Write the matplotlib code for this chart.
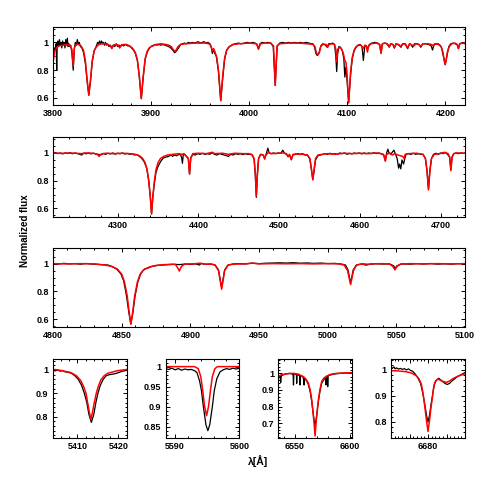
import numpy as np
import matplotlib
matplotlib.use("Agg")
import matplotlib.pyplot as plt
from matplotlib.ticker import MultipleLocator, FuncFormatter

plt.rcParams['font.family'] = ['Liberation Sans', 'DejaVu Sans']

# ---------------- data: (wavelength [A], normalized flux) ----------------
P1_BLACK = [
 (3800.0,0.80),(3800.8,0.93),(3801.6,0.96),(3802.4,0.95),(3803.2,0.99),(3803.8,0.80),(3804.3,0.99),
 (3805.0,1.01),(3805.8,0.97),(3806.6,1.02),(3807.4,0.98),(3808.2,1.00),(3809.0,0.96),(3809.8,1.01),
 (3810.6,0.98),(3811.4,1.00),(3812.2,0.96),(3813.0,1.02),(3813.8,0.98),(3814.6,1.03),(3815.4,0.97),
 (3816.2,0.99),(3817.0,0.97),(3818.0,0.98),(3819.2,0.93),(3820.6,0.80),(3821.8,0.96),(3822.8,1.00),
 (3823.8,0.98),(3824.8,1.02),(3825.8,0.99),(3826.8,1.00),(3828.0,0.97),(3829.5,0.96),(3831.0,0.93),
 (3833.0,0.85),(3834.8,0.72),(3836.5,0.62),(3838.2,0.72),(3840.0,0.86),(3842.0,0.94),(3844.0,0.97),
 (3845.5,1.00),(3846.5,0.99),(3847.5,1.01),(3848.5,0.99),(3849.5,1.01),(3850.5,0.99),(3851.5,1.00),
 (3852.5,0.98),(3853.5,1.00),(3854.5,0.98),(3855.5,0.99),(3857.0,0.97),(3858.5,0.98),(3860.0,0.96),
 (3861.5,0.98),(3863.0,0.97),(3864.5,0.99),(3866.0,0.97),(3867.5,0.98),(3869.0,0.97),(3870.5,0.985),
 (3872.0,0.975),(3874.0,0.985),(3876.0,0.975),(3878.0,0.975),(3880.0,0.96),(3882.0,0.945),(3884.0,0.92),
 (3886.0,0.87),(3888.0,0.75),(3890.0,0.595),(3892.0,0.75),(3894.0,0.88),(3896.0,0.93),(3898.0,0.955),
 (3900.0,0.97),(3902.0,0.975),(3904.0,0.985),(3906.0,0.98),(3908.0,0.985),(3910.0,0.98),(3912.0,0.985),
 (3914.0,0.98),(3916.0,0.975),(3918.0,0.97),(3920.0,0.96),(3922.0,0.945),(3924.0,0.925),(3926.0,0.94),
 (3928.0,0.96),(3930.0,0.985),(3932.0,0.99),(3934.0,0.995),(3936.0,0.99),(3938.0,1.0),(3940.0,0.995),
 (3942.0,1.0),(3944.0,0.995),(3946.0,1.0),(3948.0,1.005),(3950.0,0.995),(3952.0,1.0),(3954.0,1.005),
 (3956.0,0.995),(3958.0,1.0),(3960.0,0.99),(3961.5,0.96),(3962.5,0.92),(3963.5,0.95),(3965.0,0.92),
 (3966.5,0.90),(3968.5,0.80),(3971.0,0.58),(3973.0,0.74),(3975.0,0.88),(3977.0,0.94),(3979.0,0.965),
 (3981.0,0.975),(3983.0,0.985),(3986.0,0.99),(3989.0,0.995),(3992.0,0.99),(3995.0,0.995),(3998.0,1.0),
 (4001.0,0.995),(4004.0,1.0),(4006.0,0.995),(4008.0,0.985),(4009.5,0.955),(4011.0,0.99),(4013.0,1.0),
 (4016.0,0.995),(4019.0,1.0),(4022.0,0.995),(4024.5,0.97),(4026.5,0.69),(4028.5,0.97),(4031.0,0.995),
 (4034.0,1.0),(4037.0,0.995),(4040.0,1.0),(4043.0,0.995),(4046.0,1.0),(4049.0,0.995),(4052.0,1.0),
 (4055.0,0.995),(4058.0,1.0),(4061.0,0.995),(4063.0,0.99),(4065.0,0.99),(4066.5,0.97),(4068.0,0.92),
 (4069.5,0.905),(4071.0,0.92),(4073.0,0.975),(4075.0,0.99),(4077.0,0.985),(4079.5,0.965),(4081.0,0.99),
 (4083.0,0.99),(4085.0,0.995),(4087.0,0.985),(4088.3,0.90),(4089.2,0.79),(4090.2,0.92),(4091.5,0.97),
 (4093.0,0.965),(4095.0,0.94),(4096.5,0.88),(4097.5,0.75),(4098.5,0.82),(4099.5,0.75),(4101.4,0.565),
 (4103.3,0.76),(4105.0,0.88),(4107.0,0.94),(4109.0,0.965),(4111.0,0.98),(4113.0,0.985),(4115.0,0.97),
 (4116.4,0.87),(4117.8,0.97),(4119.5,0.975),(4121.0,0.955),(4122.5,0.985),(4125.0,0.995),(4128.0,1.0),
 (4131.0,0.995),(4133.0,0.985),(4134.4,0.925),(4135.8,0.99),(4138.0,0.995),(4140.5,0.99),(4142.8,0.965),
 (4144.5,0.99),(4146.5,0.985),(4148.0,0.96),(4149.5,0.99),(4152.0,0.985),(4154.7,0.965),(4156.5,0.99),
 (4159.0,0.99),(4161.5,0.955),(4163.5,0.99),(4165.0,0.985),(4166.6,0.965),(4168.5,0.99),(4171.0,0.99),
 (4173.0,0.985),(4175.0,0.965),(4177.0,0.99),(4180.0,0.99),(4183.0,0.985),(4185.5,0.975),(4186.9,0.945),
 (4188.3,0.98),(4190.0,0.99),(4192.0,0.99),(4194.0,0.985),(4196.0,0.965),(4198.0,0.90),(4199.8,0.84),
 (4201.5,0.90),(4203.5,0.97),(4205.5,0.99),(4208.0,0.995),(4210.0,0.99),(4212.0,0.985),(4213.3,0.955),
 (4214.6,0.99),(4217.0,0.995),(4220.0,0.99),
]
P1_RED = [
 (3800.0,0.86),(3801.5,0.93),(3803.5,0.96),(3806.0,0.975),(3810.0,0.98),(3814.0,0.985),(3817.0,0.98),
 (3819.3,0.95),(3820.6,0.83),(3821.8,0.96),(3823.5,0.985),(3826.0,0.985),(3828.5,0.975),(3831.0,0.945),
 (3833.0,0.87),(3834.8,0.73),(3836.5,0.62),(3838.2,0.73),(3840.0,0.87),(3842.0,0.94),(3844.5,0.97),
 (3847.0,0.985),(3850.0,0.99),(3853.0,0.99),(3856.0,0.985),(3858.5,0.975),(3860.0,0.955),(3861.5,0.98),
 (3864.0,0.985),(3866.5,0.98),(3868.0,0.96),(3869.5,0.98),(3872.0,0.985),(3875.0,0.985),(3878.0,0.975),
 (3880.0,0.965),(3882.0,0.95),(3884.0,0.925),(3886.0,0.875),(3888.0,0.76),(3890.0,0.595),(3892.0,0.76),
 (3894.0,0.885),(3896.0,0.935),(3898.0,0.96),(3901.0,0.975),(3905.0,0.985),(3910.0,0.99),(3915.0,0.985),
 (3918.0,0.98),(3920.5,0.97),(3922.5,0.95),(3924.0,0.935),(3925.5,0.945),(3927.5,0.97),(3930.0,0.985),
 (3935.0,0.99),(3945.0,0.995),(3955.0,0.995),(3959.0,0.99),(3961.0,0.975),(3962.5,0.94),(3963.8,0.955),
 (3965.2,0.93),(3967.0,0.89),(3969.0,0.78),(3971.0,0.58),(3973.0,0.76),(3975.0,0.89),(3977.0,0.945),
 (3980.0,0.97),(3984.0,0.985),(3990.0,0.99),(4000.0,0.995),(4007.5,0.99),(4009.5,0.95),(4011.5,0.99),
 (4016.0,0.995),(4022.0,0.995),(4024.8,0.975),(4026.6,0.69),(4028.4,0.975),(4031.0,0.99),(4040.0,0.995),
 (4050.0,0.995),(4060.0,0.99),(4065.0,0.985),(4067.0,0.97),(4068.5,0.925),(4070.0,0.91),(4071.5,0.925),
 (4073.0,0.97),(4075.0,0.985),(4078.5,0.985),(4080.0,0.965),(4081.5,0.985),(4084.0,0.99),(4087.0,0.985),
 (4088.3,0.95),(4089.2,0.86),(4090.2,0.95),(4092.0,0.965),(4094.0,0.955),(4096.0,0.92),(4097.5,0.87),
 (4098.5,0.86),(4099.5,0.80),(4101.4,0.565),(4103.3,0.78),(4105.0,0.89),(4107.0,0.945),(4109.0,0.97),
 (4111.5,0.98),(4114.0,0.98),(4116.2,0.955),(4117.8,0.98),(4119.3,0.975),(4120.5,0.93),(4121.8,0.975),
 (4124.0,0.99),(4130.0,0.995),(4133.0,0.985),(4134.4,0.92),(4135.8,0.99),(4139.0,0.995),(4141.5,0.985),
 (4142.8,0.97),(4144.2,0.99),(4146.5,0.985),(4148.0,0.96),(4149.5,0.985),(4152.5,0.985),(4154.7,0.97),
 (4156.5,0.99),(4159.5,0.985),(4161.5,0.96),(4163.5,0.99),(4166.0,0.98),(4168.0,0.975),(4170.0,0.99),
 (4173.0,0.985),(4175.0,0.97),(4177.0,0.99),(4182.0,0.99),(4186.0,0.985),(4187.5,0.975),(4189.0,0.99),
 (4193.0,0.985),(4195.5,0.97),(4197.5,0.93),(4198.8,0.87),(4199.8,0.84),(4200.8,0.87),(4202.0,0.93),
 (4204.0,0.97),(4206.5,0.99),(4210.0,0.995),(4212.0,0.985),(4213.3,0.955),(4214.6,0.99),(4217.0,0.995),
 (4220.0,0.995),
]
P2_BLACK = [
 (4220,0.998),(4223,1.003),(4226,0.995),(4229,1.0),(4232,0.993),(4235,1.0),(4238,0.996),(4241,1.002),
 (4244,0.994),(4247,1.0),(4250,0.996),(4253,0.99),(4255.5,0.985),(4258,0.998),(4261,0.994),(4264,1.0),
 (4267,0.993),(4270,0.998),(4273,0.992),(4276,0.99),(4279,0.985),(4282,0.997),(4285,0.99),(4288,0.998),
 (4291,0.993),(4294,1.0),(4297,0.991),(4300,0.998),(4303,0.994),(4306,1.0),(4309,0.992),(4312,0.997),
 (4315,0.99),(4318,0.995),(4321,0.985),(4324,0.988),(4327,0.975),(4330,0.96),(4333,0.935),(4336,0.89),
 (4338.5,0.80),(4340.5,0.68),(4342,0.56),(4343.5,0.68),(4345.5,0.78),(4347.5,0.86),(4349.5,0.895),
 (4351.5,0.92),(4354,0.945),(4357,0.965),(4360,0.97),(4363,0.975),(4366,0.985),(4368,0.975),(4370,0.985),
 (4373,0.98),(4376,0.99),(4378,0.985),(4379.3,0.965),(4380.2,0.925),(4381.2,0.985),(4383,0.99),
 (4387.5,0.96),(4389,0.848),(4390.5,0.965),(4393,0.99),(4396,0.985),(4399,0.995),(4402,0.99),(4405,0.998),
 (4408,0.99),(4411,0.995),(4414,0.99),(4417,1.002),(4420,0.99),(4423,0.985),(4426,0.995),(4429,0.99),
 (4432,0.985),(4435,0.98),(4437,0.975),(4440,0.99),(4443,0.985),(4446,0.995),(4449,0.99),(4452,0.995),
 (4455,0.988),(4458,0.995),(4461,0.99),(4464,0.99),(4467,0.985),(4469,0.95),(4470.5,0.83),(4471.7,0.68),
 (4473,0.84),(4474.5,0.96),(4477,0.99),(4480,0.985),(4482,0.96),(4484,0.995),(4486,1.035),(4487.5,1.0),
 (4490,0.995),(4493,1.0),(4496,0.995),(4499,1.0),(4502,0.998),(4504.5,1.02),(4506.5,0.998),(4509,0.99),
 (4511,0.975),(4513,0.985),(4515,0.95),(4517,0.985),(4520,0.99),(4523,0.995),(4526,0.99),(4529,0.995),
 (4532,0.985),(4535,0.985),(4538,0.955),(4539.8,0.88),(4541.6,0.81),(4543.4,0.88),(4545,0.95),(4548,0.98),
 (4551,0.985),(4554,0.99),(4557,0.995),(4560,0.99),(4563,0.998),(4566,0.99),(4569,0.995),(4572,0.99),
 (4575,1.0),(4578,0.995),(4581,1.0),(4584,0.99),(4587,0.998),(4590,0.993),(4593,1.0),(4596,0.995),
 (4599,1.0),(4602,0.993),(4605,1.0),(4608,0.995),(4611,1.0),(4614,0.995),(4617,1.002),(4620,0.995),
 (4623,1.0),(4626,0.995),(4629,0.99),(4631.4,0.945),(4633,1.0),(4634.5,1.027),(4636,1.0),(4638,0.99),
 (4640,1.005),(4642,1.02),(4644,0.99),(4646,0.96),(4647.8,0.89),(4649,0.92),(4650.5,0.885),(4652,0.95),
 (4654,0.92),(4655.5,0.96),(4657,0.99),(4660,0.995),(4663,0.99),(4666,0.998),(4669,0.99),(4672,0.995),
 (4675,0.99),(4678,0.99),(4681,0.96),(4683,0.87),(4684.8,0.74),(4686.5,0.87),(4688.5,0.96),(4691,0.99),
 (4694,0.998),(4697,0.99),(4700,1.0),(4703,0.995),(4705,1.003),(4708,0.993),(4711,0.97),(4712.5,0.88),
 (4714,0.97),(4716,0.995),(4719,1.0),(4722,0.995),(4725,1.0),(4728,0.997),(4730,1.0),
]
P2_RED = [
 (4220,1.0),(4230,0.997),(4240,1.0),(4250,0.997),(4255,0.995),(4260,1.0),(4270,0.998),(4275,0.99),
 (4277,0.975),(4279,0.99),(4285,0.998),(4295,0.995),(4305,0.998),(4315,0.995),(4322,0.99),(4327,0.98),
 (4331,0.96),(4334,0.93),(4336.5,0.88),(4338.5,0.80),(4340.5,0.68),(4342.0,0.56),(4343.5,0.68),
 (4345.5,0.80),(4347.5,0.88),(4350,0.93),(4353,0.96),(4357,0.975),(4362,0.985),(4368,0.99),(4375,0.995),
 (4380,0.99),(4382,0.995),(4387.5,0.96),(4389,0.848),(4390.5,0.96),(4393,0.995),(4400,0.998),(4410,0.995),
 (4417,1.005),(4420,0.995),(4430,0.998),(4437,0.99),(4445,0.998),(4455,0.995),(4462,0.995),(4466,0.99),
 (4469,0.96),(4470.5,0.85),(4471.7,0.69),(4473,0.85),(4474.5,0.96),(4477,0.99),(4480.5,0.985),(4482,0.955),
 (4483.5,0.985),(4487,1.005),(4490,0.995),(4500,0.998),(4505,1.0),(4509,0.995),(4511,0.972),(4512.5,0.99),
 (4515,0.955),(4517,0.99),(4521,0.993),(4525,0.99),(4530,0.99),(4535,0.985),(4538,0.96),(4539.8,0.89),
 (4541.6,0.805),(4543.4,0.89),(4545,0.96),(4548,0.985),(4553,0.99),(4560,0.995),(4570,0.99),(4580,0.998),
 (4590,0.995),(4600,0.998),(4610,0.995),(4620,1.0),(4626,0.995),(4629.5,0.985),(4631.4,0.94),(4633,0.99),
 (4637,1.0),(4640,0.985),(4643,0.995),(4647,0.985),(4650,0.98),(4653,0.975),(4654.5,0.96),(4656,0.99),
 (4660,0.995),(4670,0.998),(4678,0.99),(4681,0.96),(4683,0.87),(4684.8,0.733),(4686.5,0.87),(4688.5,0.96),
 (4692,0.99),(4700,0.997),(4705,1.005),(4709,0.995),(4711,0.97),(4712.5,0.872),(4714,0.97),(4716,0.995),
 (4720,1.0),(4730,0.998),
]
P3_BLACK = [
 (4800,1.0),(4804,0.997),(4808,1.002),(4812,0.998),(4816,1.0),(4820,0.996),(4824,1.001),(4828,0.997),
 (4832,0.995),(4836,0.992),(4840,0.99),(4843,0.978),(4846.5,0.96),(4849.5,0.925),(4851.5,0.875),
 (4853.5,0.77),(4855.2,0.65),(4856.7,0.566),(4858.2,0.65),(4859.8,0.77),(4861.8,0.87),(4863.8,0.925),
 (4865.5,0.95),(4867,0.963),(4869,0.968),(4872,0.98),(4876,0.988),(4880,0.99),(4884,0.993),(4888,0.995),
 (4892,0.993),(4896,0.997),(4900,0.995),(4904,0.998),(4906.5,0.99),(4908,1.002),(4911,0.995),(4915,0.997),
 (4918,0.99),(4920.5,0.955),(4922.8,0.83),(4925,0.955),(4927.5,0.99),(4931,0.997),(4935,1.0),(4940,0.998),
 (4945,1.003),(4950,1.0),(4955,1.003),(4960,1.004),(4965,1.006),(4970,1.004),(4975,1.007),(4980,1.003),
 (4985,1.005),(4990,1.002),(4995,1.004),(5000,1.0),(5005,1.002),(5010,0.997),(5013,0.99),(5014.8,0.955),
 (5016.7,0.86),(5018.6,0.955),(5021,0.99),(5025,0.998),(5030,0.995),(5035,0.999),(5040,0.997),(5045,0.998),
 (5048,0.985),(5049,0.965),(5050.5,0.985),(5054,0.998),(5060,0.996),(5065,1.0),(5070,0.997),(5075,1.001),
 (5080,0.996),(5085,0.999),(5090,0.996),(5095,1.0),(5100,0.998),
]
P3_RED = [
 (4800,1.0),(4810,0.998),(4820,1.0),(4830,0.998),(4838,0.99),(4843,0.98),(4847,0.96),(4850,0.925),
 (4852,0.87),(4854,0.77),(4855.5,0.65),(4856.7,0.566),(4858,0.65),(4859.5,0.77),(4861.5,0.87),
 (4863.5,0.925),(4866,0.955),(4868,0.965),(4870,0.975),(4874,0.985),(4880,0.992),(4886,0.995),(4889,0.995),
 (4890.5,0.975),(4892,0.947),(4893.5,0.98),(4896,0.997),(4902,0.998),(4907,1.003),(4910,0.996),(4915,0.997),
 (4918,0.99),(4920.5,0.95),(4922.8,0.816),(4925,0.95),(4927.5,0.99),(4932,0.997),(4940,0.998),(4945,1.004),
 (4950,0.998),(4960,1.0),(4970,0.999),(4980,1.0),(4990,0.998),(5000,1.0),(5008,0.998),(5012,0.99),
 (5014.5,0.95),(5016.7,0.85),(5018.8,0.95),(5021,0.99),(5025,0.998),(5028,0.988),(5031,0.998),(5040,1.0),
 (5045,0.997),(5047.5,0.98),(5049,0.955),(5050.5,0.98),(5053,0.997),(5060,1.0),(5070,0.998),(5080,1.0),
 (5090,0.998),(5100,1.0),
]
PA_BLACK = [
 (5404,1.0),(5404.6,0.996),(5405.2,1.0),(5405.8,0.995),(5406.4,0.997),(5407,0.992),(5407.8,0.99),
 (5408.6,0.985),(5409.4,0.975),(5410.2,0.96),(5411,0.935),(5411.7,0.90),(5412.3,0.86),(5412.8,0.81),
 (5413.4,0.775),(5414.0,0.81),(5414.5,0.86),(5415.0,0.90),(5415.6,0.935),(5416.3,0.96),(5417.0,0.975),
 (5417.8,0.98),(5418.6,0.982),(5419.4,0.985),(5420.2,0.99),(5421,0.995),(5422,0.998),
]
PA_RED = [
 (5404,1.003),(5406,0.998),(5408.4,0.989),(5409.8,0.975),(5410.8,0.955),(5411.5,0.93),(5412.1,0.90),
 (5412.6,0.85),(5412.9,0.82),(5413.3,0.788),(5413.7,0.82),(5414.0,0.85),(5414.6,0.90),(5415.1,0.93),
 (5415.7,0.957),(5416.5,0.975),(5417.4,0.986),(5419.8,0.997),(5422,1.002),
]
PB_BLACK = [
 (5588.5,0.995),(5589,0.993),(5589.5,0.996),(5590,0.992),(5590.5,0.995),(5591,0.991),(5591.5,0.994),
 (5592,0.992),(5592.5,0.993),(5593,0.99),(5593.4,0.985),(5593.8,0.965),(5594.1,0.94),(5594.4,0.90),
 (5594.8,0.855),(5595.1,0.84),(5595.4,0.855),(5595.8,0.90),(5596.1,0.94),(5596.5,0.97),(5597,0.987),
 (5597.5,0.992),(5598,0.995),(5598.5,0.993),(5599,0.996),(5599.5,0.994),(5600,0.996),
]
PB_RED = [
 (5588.5,1.0),(5593.0,1.0),(5593.6,0.995),(5594.0,0.975),(5594.3,0.94),(5594.6,0.90),(5594.9,0.8775),
 (5595.2,0.90),(5595.5,0.94),(5595.8,0.975),(5596.2,0.995),(5596.6,1.0),(5600,1.0),
]
PC_BLACK = [
 (6534.8,0.97),(6535.5,0.985),(6536.5,0.98),(6537,0.945),(6537.5,0.985),(6539,0.99),(6541,0.995),
 (6543,0.998),(6545,1.0),(6547,0.998),(6548.3,0.99),(6548.6,0.93),(6548.9,0.995),(6550,0.998),
 (6551.3,0.99),(6551.5,0.94),(6551.8,0.995),(6553,0.99),(6554.3,0.985),(6554.5,0.93),(6554.8,0.985),
 (6556,0.985),(6557.5,0.975),(6558.2,0.93),(6558.6,0.97),(6560,0.96),(6562,0.935),(6563.8,0.89),
 (6565.2,0.83),(6566.3,0.77),(6567.3,0.72),(6568.2,0.69),(6569.1,0.72),(6570.1,0.77),(6571.2,0.83),
 (6572.6,0.89),(6574.2,0.94),(6576,0.96),(6578,0.975),(6578.2,0.93),(6578.5,0.975),(6579.5,0.98),
 (6579.7,0.92),(6580,0.985),(6582,0.99),(6585,0.995),(6588,0.998),(6592,1.0),(6596,1.002),(6601.5,1.003),
]
PC_RED = [
 (6534.8,0.98),(6537,0.99),(6541,0.996),(6548.5,1.0),(6553,0.995),(6557.6,0.98),(6560,0.965),
 (6562.1,0.94),(6563.8,0.90),(6565.2,0.84),(6566.3,0.77),(6567.3,0.70),(6568.2,0.624),(6569.1,0.70),
 (6570.1,0.77),(6571.2,0.84),(6572.6,0.90),(6574.2,0.95),(6576,0.97),(6578.8,0.984),(6583,0.995),
 (6587.9,1.0),(6601.5,1.004),
]
PD_BLACK = [
 (6660,1.01),(6660.8,1.006),(6661.5,1.012),(6662.3,1.004),(6663,1.008),(6664,1.003),(6665,1.006),
 (6666.2,1.002),(6667.2,1.005),(6668.3,1.0),(6669.5,1.004),(6670.5,0.998),(6671.7,0.995),(6673,0.985),
 (6674.5,0.97),(6676,0.948),(6677.2,0.91),(6678.2,0.87),(6679.2,0.825),(6680,0.80),(6680.8,0.825),
 (6681.6,0.865),(6682.4,0.90),(6683.3,0.94),(6684.2,0.958),(6685.3,0.965),(6685.8,0.968),(6686.8,0.962),
 (6688,0.955),(6689.2,0.948),(6690.4,0.944),(6691.6,0.948),(6693,0.958),(6694.5,0.966),(6696,0.975),
 (6697.5,0.98),(6699,0.986),(6700,0.99),
]
PD_RED = [
 (6660,0.997),(6664,0.996),(6668.2,0.993),(6671,0.988),(6673.6,0.978),(6675.2,0.965),(6676.4,0.945),
 (6677.2,0.915),(6677.8,0.885),(6678.5,0.845),(6679.1,0.81),(6680,0.763),(6680.9,0.81),(6681.6,0.855),
 (6682.4,0.895),(6683.0,0.93),(6683.6,0.95),(6684.5,0.96),(6685.5,0.965),(6686.9,0.959),(6688.5,0.955),
 (6690,0.952),(6691.8,0.958),(6693.6,0.967),(6696.5,0.977),(6700,0.985),
]

# ---------------- layout (pixel boxes: left, right, top, bottom) ----------------
W = H = 491.0
def rect(l, r, t, b):
    return [l / W, 1 - b / H, (r - l) / W, (b - t) / H]

fig = plt.figure(figsize=(4.91, 4.91), dpi=100)
fmt = FuncFormatter(lambda v, p: f"{v:g}")

panels = [
    (P1_BLACK, P1_RED, (53, 465, 26.7, 105.3), (3800, 4220), (0.547, 1.113), 100, 20, 0.2, 0.05, None),
    (P2_BLACK, P2_RED, (53, 465, 137.3, 216.7), (4220, 4730), (0.540, 1.113), 100, 20, 0.2, 0.05, None),
    (P3_BLACK, P3_RED, (53, 465, 248.3, 327.3), (4800, 5100), (0.543, 1.110), 50, 10, 0.2, 0.05, None),
    (PA_BLACK, PA_RED, (52.7, 126.7, 359, 438.3), (5404, 5422), (0.707, 1.047), 10, 2, 0.1, 0.02, None),
    (PB_BLACK, PB_RED, (165.5, 239.3, 359, 438.3), (5588.5, 5600), (0.821, 1.019), 10, 2, 0.05, 0.01, None),
    (PC_BLACK, PC_RED, (278.3, 351.7, 359, 438.3), (6534.8, 6601.5), (0.610, 1.086), 50, 10, 0.1, 0.02, None),
    (PD_BLACK, PD_RED, (391, 465, 359, 438.3), (6660, 6700), (0.737, 1.042), 10, 2, 0.1, 0.02, [6680]),
]

for blk, red, box, xl, yl, xM, xm, yM, ym, xlab in panels:
    ax = fig.add_axes(rect(*box))
    b = np.array(blk).T
    r = np.array(red).T
    ax.plot(b[0], b[1], color='black', lw=0.9)
    ax.plot(r[0], r[1], color='#ff0000', lw=1.1)
    ax.set_xlim(*xl)
    ax.set_ylim(*yl)
    ax.xaxis.set_major_locator(MultipleLocator(xM))
    ax.xaxis.set_minor_locator(MultipleLocator(xm))
    ax.yaxis.set_major_locator(MultipleLocator(yM))
    ax.yaxis.set_minor_locator(MultipleLocator(ym))
    ax.xaxis.set_major_formatter(fmt)
    ax.yaxis.set_major_formatter(fmt)
    if xlab is not None:
        ax.xaxis.set_major_formatter(FuncFormatter(
            lambda v, p, keep=tuple(xlab): f"{v:g}" if any(abs(v - k) < 1e-6 for k in keep) else ""))
    ax.tick_params(which='both', direction='in', top=True, right=True, width=0.7,
                   labelsize=6.5, pad=3)
    ax.tick_params(which='major', length=3.2)
    ax.tick_params(which='minor', length=1.6)
    for lbl in ax.get_xticklabels() + ax.get_yticklabels():
        lbl.set_fontweight('bold')
    for s in ax.spines.values():
        s.set_linewidth(0.8)

fig.text(25 / W, 1 - 231 / H, 'Normalized flux', rotation=90, ha='center', va='center',
         fontsize=7, fontweight='bold')
fig.text(258 / W, 1 - 461.5 / H, 'λ[Å]', ha='center', va='center',
         fontsize=7.5, fontweight='bold')

fig.savefig('out.png', dpi=100)
